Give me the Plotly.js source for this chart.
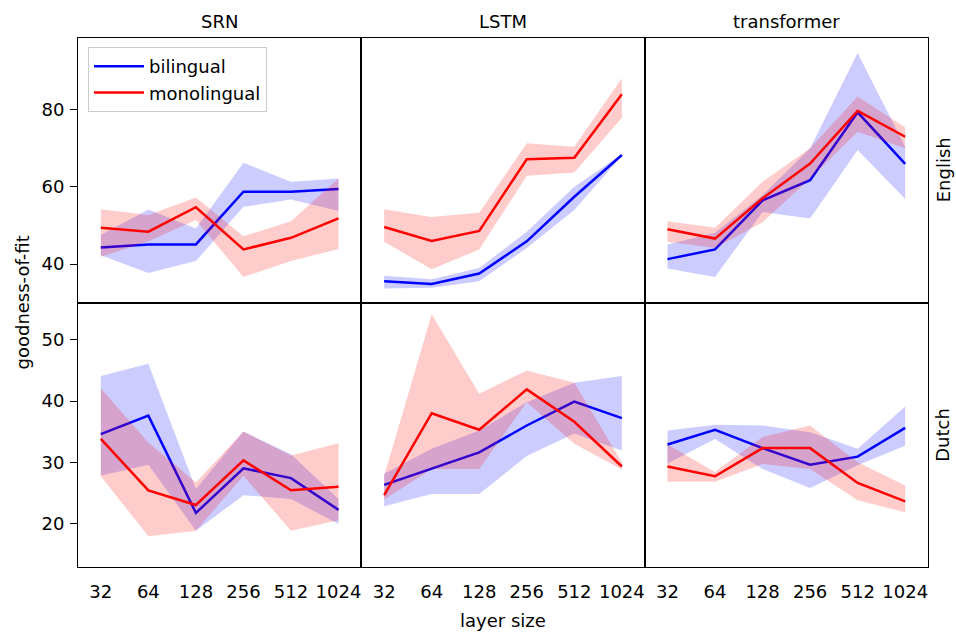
<!DOCTYPE html>
<html>
<head>
<meta charset="utf-8">
<script src="https://cdn.plot.ly/plotly-3.0.1.min.js"></script>
<style>html,body{margin:0;padding:0;background:#fff;}#chart{width:956px;height:633px;}</style>
</head>
<body>
<div id="chart"></div>
<script>
// ---- data ----
const sizes = ['32', '64', '128', '256', '512', '1024'];
const models = ['SRN', 'LSTM', 'transformer'];
const languages = ['English', 'Dutch'];
const seriesNames = ['bilingual', 'monolingual'];

// English
const srnEnBi     = [44.3, 45.1, 45.1, 58.7, 58.7, 59.4];
const srnEnBiLo   = [42.3, 37.7, 40.8, 54.8, 56.7, 53.7];
const srnEnBiHi   = [47.5, 54.1, 49.2, 66.2, 61.3, 62.1];
const srnEnMono   = [49.4, 48.4, 54.7, 43.8, 46.8, 51.8];
const srnEnMonoLo = [41.9, 45.9, 51.4, 36.7, 40.8, 43.9];
const srnEnMonoHi = [54.2, 52.7, 57.2, 47.2, 51.1, 62.1];

const lstmEnBi     = [35.6, 34.9, 37.6, 45.9, 57.4, 68.2];
const lstmEnBiLo   = [33.7, 33.9, 35.6, 44.2, 54.0, 68.0];
const lstmEnBiHi   = [37.0, 36.1, 39.0, 48.4, 60.0, 68.4];
const lstmEnMono   = [49.6, 46.0, 48.6, 67.1, 67.5, 83.9];
const lstmEnMonoLo = [45.8, 38.7, 43.8, 62.8, 63.7, 77.8];
const lstmEnMonoHi = [54.2, 52.2, 53.3, 71.2, 70.3, 88.0];

const trEnBi     = [41.3, 43.8, 56.5, 61.7, 79.2, 65.9];
const trEnBiLo   = [38.9, 36.7, 53.5, 51.8, 69.5, 56.8];
const trEnBiHi   = [45.1, 48.1, 57.8, 69.9, 94.5, 70.3];
const trEnMono   = [49.0, 46.6, 57.0, 66.0, 79.6, 72.9];
const trEnMonoLo = [45.8, 44.2, 50.8, 62.1, 74.2, 69.9];
const trEnMonoHi = [51.1, 49.4, 61.3, 69.9, 83.3, 75.3];

// Dutch
const srnNlBi     = [34.6, 37.6, 21.7, 29.0, 27.4, 22.2];
const srnNlBiLo   = [27.8, 29.6, 18.8, 24.6, 24.0, 19.9];
const srnNlBiHi   = [44.1, 46.1, 25.6, 35.0, 31.3, 24.0];
const srnNlMono   = [33.8, 25.4, 23.0, 30.3, 25.4, 26.0];
const srnNlMonoLo = [27.7, 17.9, 18.8, 27.8, 18.8, 20.5];
const srnNlMonoHi = [42.1, 33.2, 26.7, 35.0, 31.1, 33.1];

const lstmNlBi     = [26.3, 28.9, 31.6, 36.0, 39.9, 37.2];
const lstmNlBiLo   = [22.8, 24.8, 24.8, 31.0, 34.7, 31.9];
const lstmNlBiHi   = [28.1, 32.2, 35.2, 39.8, 43.0, 44.1];
const lstmNlMono   = [24.6, 38.0, 35.3, 41.9, 36.6, 29.3];
const lstmNlMonoLo = [23.9, 28.9, 28.9, 39.8, 33.0, 28.8];
const lstmNlMonoHi = [27.8, 54.2, 41.2, 45.0, 43.0, 30.0];

const trNlBi     = [32.9, 35.3, 32.3, 29.6, 30.9, 35.6];
const trNlBiLo   = [29.8, 33.8, 28.9, 25.8, 29.5, 32.7];
const trNlBiHi   = [35.2, 36.1, 36.0, 34.9, 32.2, 39.1];
const trNlMono   = [29.3, 27.7, 32.3, 32.3, 26.6, 23.6];
const trNlMonoLo = [26.8, 26.8, 29.7, 28.9, 23.8, 21.8];
const trNlMonoHi = [32.9, 28.4, 34.1, 36.0, 30.0, 26.2];

// panels: row 0 = English, row 1 = Dutch; columns = models
const panels = [
  [[srnEnBi, srnEnBiLo, srnEnBiHi, srnEnMono, srnEnMonoLo, srnEnMonoHi],
   [lstmEnBi, lstmEnBiLo, lstmEnBiHi, lstmEnMono, lstmEnMonoLo, lstmEnMonoHi],
   [trEnBi, trEnBiLo, trEnBiHi, trEnMono, trEnMonoLo, trEnMonoHi]],
  [[srnNlBi, srnNlBiLo, srnNlBiHi, srnNlMono, srnNlMonoLo, srnNlMonoHi],
   [lstmNlBi, lstmNlBiLo, lstmNlBiHi, lstmNlMono, lstmNlMonoLo, lstmNlMonoHi],
   [trNlBi, trNlBiLo, trNlBiHi, trNlMono, trNlMonoLo, trNlMonoHi]]
];

const lineColors = ['#0000ff', '#ff0000'];
const fillColors = ['rgba(0,0,255,0.2)', 'rgba(255,0,0,0.2)'];
const rowRanges = [[30.1, 98.4], [12.87, 56.1]];
const rowTicks = [[40, 60, 80], [20, 30, 40, 50]];
const FONT = 'DejaVu Sans, Liberation Sans, sans-serif';

const traces = [];
const layout = {
  width: 956, height: 633,
  margin: {l: 78, r: 28, t: 38, b: 66, pad: 0},
  paper_bgcolor: '#ffffff', plot_bgcolor: '#ffffff',
  font: {family: FONT, size: 18, color: '#000000'},
  showlegend: true,
  legend: {x: 0.0118, y: 0.983, xanchor: 'left', yanchor: 'top', itemwidth: 50,
           bgcolor: 'rgba(255,255,255,0.8)', bordercolor: '#cccccc', borderwidth: 1,
           font: {family: FONT, size: 18, color: '#000'}, tracegroupgap: 0},
  annotations: []
};

let idx = 0;
for (let r = 0; r < 2; r++) {
  for (let c = 0; c < 3; c++) {
    idx++;
    const xa = 'x' + (idx === 1 ? '' : idx);
    const ya = 'y' + (idx === 1 ? '' : idx);
    const d = panels[r][c];
    for (let s = 0; s < 2; s++) {
      const mean = d[s * 3], lo = d[s * 3 + 1], hi = d[s * 3 + 2];
      traces.push({
        type: 'scatter', mode: 'lines', xaxis: xa, yaxis: ya,
        x: sizes.concat(sizes.slice().reverse()),
        y: hi.concat(lo.slice().reverse()),
        fill: 'toself', fillcolor: fillColors[s], line: {width: 0, color: 'rgba(0,0,0,0)'},
        showlegend: false, hoverinfo: 'skip'
      });
      traces.push({
        type: 'scatter', mode: 'lines', xaxis: xa, yaxis: ya,
        x: sizes, y: mean, name: seriesNames[s],
        line: {color: lineColors[s], width: 2.5},
        legendgroup: seriesNames[s], showlegend: idx === 1
      });
    }
    const xk = 'xaxis' + (idx === 1 ? '' : idx);
    const yk = 'yaxis' + (idx === 1 ? '' : idx);
    layout[xk] = {
      domain: [c / 3, (c + 1) / 3], anchor: ya, type: 'category',
      categoryorder: 'array', categoryarray: sizes,
      range: [-0.48, 5.48], showline: true, mirror: true, linecolor: '#000', linewidth: 1,
      showgrid: false, zeroline: false,
      showticklabels: r === 1, ticks: r === 1 ? 'outside' : '', ticklen: 8,
      tickcolor: 'rgba(0,0,0,0)', tickfont: {family: FONT, size: 18, color: '#000'}
    };
    layout[yk] = {
      domain: r === 0 ? [0.5, 1] : [0, 0.5], anchor: xa,
      range: rowRanges[r], tickvals: rowTicks[r],
      showline: true, mirror: true, linecolor: '#000', linewidth: 1,
      showgrid: false, zeroline: false,
      showticklabels: c === 0, ticks: c === 0 ? 'outside' : '', ticklen: 7, tickwidth: 1,
      tickcolor: '#000', ticklabelstandoff: 2,
      tickfont: {family: FONT, size: 18, color: '#000'}
    };
  }
}

// column titles
models.forEach((m, c) => {
  layout.annotations.push({text: m, xref: 'paper', yref: 'paper', x: (c + 0.5) / 3, y: 1 + 16 / 529,
    xanchor: 'center', yanchor: 'middle', showarrow: false, font: {family: FONT, size: 18, color: '#000'}});
});
// row labels
languages.forEach((l, r) => {
  layout.annotations.push({text: l, xref: 'paper', yref: 'paper', x: 1 + 15 / 850, y: r === 0 ? 0.75 : 0.25,
    xanchor: 'center', yanchor: 'middle', textangle: -90, showarrow: false,
    font: {family: FONT, size: 18, color: '#000'}});
});
// axis titles
layout.annotations.push({text: 'layer size', xref: 'paper', yref: 'paper', x: 0.5, y: -(620 - 567) / 529,
  xanchor: 'center', yanchor: 'middle', showarrow: false, font: {family: FONT, size: 18, color: '#000'}});
layout.annotations.push({text: 'goodness-of-fit', xref: 'paper', yref: 'paper', x: -(78 - 22) / 850, y: 0.5,
  xanchor: 'center', yanchor: 'middle', textangle: -90, showarrow: false,
  font: {family: FONT, size: 18, color: '#000'}});

Plotly.newPlot('chart', traces, layout, {displayModeBar: false, staticPlot: true});
</script>
</body>
</html>
